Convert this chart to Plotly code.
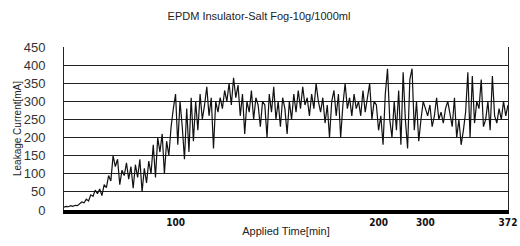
import plotly.graph_objects as go

# Leakage current samples (mA) in sampling order
current_ma = [
    8, 10, 9, 12, 10, 13, 12, 16, 22, 20,
    30, 25, 42, 38, 55, 45, 58, 40, 70, 62,
    95, 80, 150, 120, 140, 70, 110, 95, 130, 85,
    120, 60, 125, 90, 140, 50, 115, 75, 135, 100,
    180, 90, 200, 160, 210, 100, 190, 150, 230, 280,
    320, 180, 300, 230, 140, 280, 160, 310, 190, 300,
    220, 320, 250, 290, 340, 260, 310, 170, 300, 270,
    310, 280, 330, 300, 350, 290, 365, 310, 345, 260,
    320, 210, 300, 270, 330, 250, 310, 290, 230, 300,
    290, 200, 320, 270, 340, 250, 300, 230, 310, 280,
    210, 300, 250, 320, 270, 330, 280, 340, 290, 310,
    260, 320, 280, 350, 300, 270, 310, 240, 290, 200,
    300, 330, 260, 320, 200, 290, 350, 280, 310, 260,
    320, 280, 300, 260, 330, 270, 310, 350, 250, 300,
    290, 220, 260, 180, 320, 390, 250, 200, 300, 220,
    330, 180, 380, 250, 170, 360, 390, 220, 300, 190,
    250, 300, 280, 260, 290, 230, 260, 310, 250, 270,
    240, 280, 300, 260, 230, 310, 200, 250, 180, 220,
    270, 380, 200, 370, 240, 300, 280, 360, 230, 250,
    300, 220, 370, 260, 240, 280, 250, 300, 260, 290,
]
sample_index = list(range(len(current_ma)))

# Category-axis labels (applied time, min) and the samples they sit on
time_labels = ["100", "200", "300", "372"]
time_label_samples = [50, 141, 162, 199]

y_ticks = [0, 50, 100, 150, 200, 250, 300, 350, 400, 450]

fig = go.Figure()
fig.add_trace(go.Scatter(
    x=sample_index, y=current_ma, mode="lines",
    line=dict(color="#111111", width=1.2),
    showlegend=False, hoverinfo="skip",
))

fig.update_layout(
    width=520, height=246,
    margin=dict(l=64, r=12, t=47, b=36),
    paper_bgcolor="white", plot_bgcolor="white",
    title=dict(text="EPDM Insulator-Salt Fog-10g/1000ml",
               x=0.498, xanchor="center", y=0.935, yanchor="middle",
               font=dict(family="Liberation Sans, Arial", size=11, color="#222222")),
    font=dict(family="Liberation Sans, Arial", color="#111111"),
)
fig.update_xaxes(
    automargin=False,
    range=[0, len(current_ma) - 1],
    tickvals=time_label_samples, ticktext=time_labels,
    tickfont=dict(family="DejaVu Sans Condensed, Liberation Sans Narrow", size=10, color="#111111", weight="bold"),
    showgrid=False, zeroline=False,
    showline=True, linecolor="black", linewidth=4,
    ticks="", ticklabelstandoff=0,
    title=dict(text="Applied Time[min]", standoff=1,
               font=dict(family="Liberation Sans, Arial", size=11, color="#222222")),
)
fig.update_yaxes(
    automargin=False,
    range=[0, 450], tickvals=y_ticks,
    tickfont=dict(family="Liberation Sans, Arial", size=13, color="#333333"),
    showgrid=True, gridcolor="#222222", gridwidth=1,
    zeroline=False,
    showline=True, linecolor="#222222", linewidth=1, mirror=True,
    ticks="", ticklabelstandoff=15,
    title=dict(text="Leakage Current[mA]", standoff=0,
               font=dict(family="Liberation Sans, Arial", size=10, color="#222222")),
)

fig.write_html(
    "out.html",
    config={"displayModeBar": False},
    post_script="document.body.style.margin='0';document.body.style.overflow='hidden';",
)
